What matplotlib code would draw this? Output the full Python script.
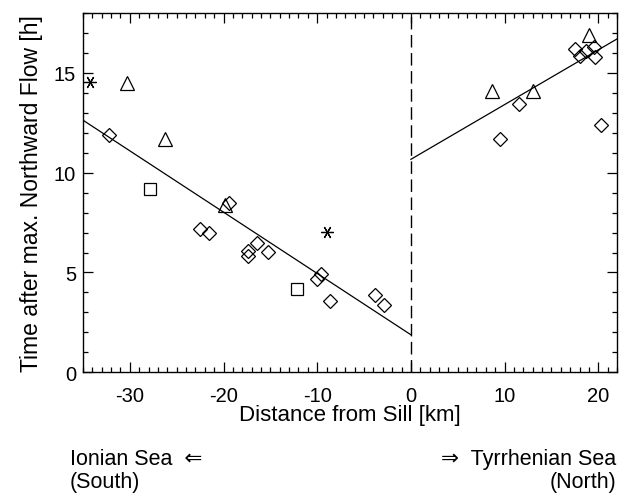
import matplotlib
matplotlib.use("Agg")
import matplotlib.pyplot as plt
from matplotlib.ticker import MultipleLocator
import numpy as np

plt.rcParams['font.family'] = ['Liberation Sans', 'DejaVu Sans']
plt.rcParams['axes.unicode_minus'] = False

# diamonds (distance km, time h)
dia_x = [-32.2, -19.4, -22.5, -21.5, -17.4, -17.4, -16.4, -15.3, -9.6, -10.0, -8.6, -3.8, -2.9,
         9.5, 11.5, 20.3, 17.5, 18.0, 18.7, 19.5, 19.6]
dia_y = [11.9, 8.5, 7.2, 7.0, 6.1, 5.85, 6.5, 6.05, 4.9, 4.65, 3.55, 3.85, 3.35,
         11.7, 13.45, 12.4, 16.2, 15.85, 16.1, 16.3, 15.8]
# triangles
tri_x = [-30.3, -26.3, -19.8, 8.7, 13.0, 19.0]
tri_y = [14.5, 11.7, 8.4, 14.1, 14.1, 16.9]
# squares
sq_x = [-27.8, -12.2]
sq_y = [9.2, 4.15]
# asterisks
ast_x = [-34.3, -9.0]
ast_y = [14.55, 7.05]

# linear fits on each side of the sill
south_fit_x = [-35.0, 0.0]
south_fit_y = [12.63, 1.88]
north_fit_x = [0.0, 22.0]
north_fit_y = [10.67, 16.7]

fig = plt.figure(figsize=(6.19, 5.02), dpi=100)
ax = fig.add_axes([83 / 619, (502 - 373.3) / 502, 534 / 619, 359.3 / 502])

mk = dict(linestyle='none', mfc='none', mec='black', mew=0.9, clip_on=False)
ax.plot(dia_x, dia_y, marker='D', ms=7.2, **mk)
ax.plot(tri_x, tri_y, marker='^', ms=9.5, **mk)
ax.plot(sq_x, sq_y, marker='s', ms=8, **mk)
ax.plot(ast_x, ast_y, marker=(6, 2, 90), ms=9, **mk)

ax.plot(south_fit_x, south_fit_y, color='black', lw=0.9)
ax.plot(north_fit_x, north_fit_y, color='black', lw=0.9)
ax.axvline(0, color='black', lw=1.0, linestyle=(0, (9, 4)))

ax.set_xlim(-35, 22)
ax.set_ylim(0, 18)
ax.xaxis.set_major_locator(MultipleLocator(10))
ax.xaxis.set_minor_locator(MultipleLocator(1))
ax.yaxis.set_major_locator(MultipleLocator(5))
ax.yaxis.set_minor_locator(MultipleLocator(1))
ax.tick_params(which='both', direction='in', top=True, right=True, width=0.9,
               labelsize=14.5)
ax.tick_params(which='major', length=7)
ax.tick_params(which='minor', length=3.5)
ax.tick_params(axis='x', pad=10)
ax.tick_params(axis='y', pad=5)
for s in ax.spines.values():
    s.set_linewidth(1.0)

ax.set_xlabel('Distance from Sill [km]', fontsize=16, labelpad=-1)
ax.set_ylabel('Time after max. Northward Flow [h]', fontsize=16.5, labelpad=8)

fs = 15.5
fig.text(70 / 619, 1 - 460 / 502, 'Ionian Sea  \u21d0', fontsize=fs, va='center', ha='left')
fig.text(70 / 619, 1 - 483 / 502, '(South)', fontsize=fs, va='center', ha='left')
fig.text(616 / 619, 1 - 460 / 502, '\u21d2  Tyrrhenian Sea', fontsize=fs, va='center', ha='right')
fig.text(616 / 619, 1 - 483 / 502, '(North)', fontsize=fs, va='center', ha='right')

fig.savefig('out.png', dpi=100)
